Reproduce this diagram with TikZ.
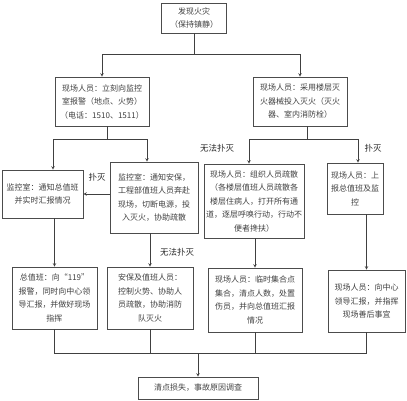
\documentclass[tikz,border=0pt]{standalone}
\usepackage{fontspec}
\setmainfont{Noto Sans CJK SC}
\usepackage{tikz}
\usetikzlibrary{arrows,positioning}
\tikzstyle{box} = [rectangle, draw=black!70, line width=0.6pt, align=center, inner sep=1pt, text=black!75, font=\fontsize{8}{13.5}\selectfont]
\tikzstyle{arrow} = [->, >=stealth, draw=black!75, line width=0.6pt]
\tikzstyle{line} = [draw=black!75, line width=0.6pt]
\tikzstyle{lbl} = [text=black!85, font=\fontsize{8.5}{10}\selectfont, inner sep=1pt]

\begin{document}
\begin{tikzpicture}[x=1pt,y=-1pt]
		\useasboundingbox (0,0) rectangle (407,400);
		\coordinate (fire) at (194,18);
		\coordinate (report) at (102,101.5);
		\coordinate (fight) at (300,101.5);
		\coordinate (monitor) at (42.5,194);
		\coordinate (notify) at (154,197.5);
		\coordinate (evac) at (254,201);
		\coordinate (upreport) at (355,188.5);
		\coordinate (call119) at (54.5,298);
		\coordinate (security) at (150,298);
		\coordinate (gather) at (255,300);
		\coordinate (lead) at (366.5,301);
		\coordinate (final) at (198,388);
		% junctions
		\coordinate (j1) at (194,54);
		\coordinate (j2) at (107,139);
		\coordinate (j2l) at (53,139);
		\coordinate (j2r) at (147,139);
		\coordinate (j4) at (307,139);
		\coordinate (j4l) at (249,139);
		\coordinate (j4r) at (358,139);
		\coordinate (b1) at (54,353);
		\coordinate (b4) at (367,353);
		% Top
		\node[box, name=fire, minimum width=65pt, minimum height=30pt] at (fire) {发现火灾\\（保持镇静）};
		% Second row
		\begin{scope}[every node/.style={box, minimum width=94pt, minimum height=49pt}]
		\node[name=report] at (report) {现场人员：立刻向监控\\室报警（地点、火势）\\（电话：1510、1511）};
		\node[name=fight] at (fight) {现场人员：采用楼层灭\\火器械投入灭火（灭火\\器、室内消防栓）};
		\end{scope}
		% Third row
		\node[box, name=monitor, minimum width=81pt, minimum height=48pt] at (monitor) {监控室：通知总值班\\并实时汇报情况};
		\node[box, name=notify, minimum width=88pt, minimum height=71pt] at (notify) {监控室：通知安保，\\工程部值班人员奔赴\\现场，切断电源，投\\入灭火，协助疏散};
		\node[box, name=evac, minimum width=100pt, minimum height=74pt] at (evac) {现场人员：组织人员疏散\\（各楼层值班人员疏散各\\楼层住病人，打开所有通\\道，逐层呼唤行动，行动不\\便者搀扶）};
		\node[box, name=upreport, minimum width=56pt, minimum height=51pt] at (upreport) {现场人员：上\\报总值班及监\\控};
		% Fourth row
		\begin{scope}[every node/.style={box, minimum height=62pt}]
		\node[name=call119, minimum width=85pt] at (call119) {总值班：向“119”\\报警，同时向中心领\\导汇报，并做好现场\\指挥};
		\node[name=security, minimum width=86pt] at (security) {安保及值班人员：\\控制火势、协助人\\员疏散，协助消防\\队灭火};
		\node[name=gather, minimum width=94pt, minimum height=64pt] at (gather) {现场人员：临时集合点\\集合，清点人数，处置\\伤员，并向总值班汇报\\情况};
		\node[name=lead, minimum width=77pt] at (lead) {现场人员：向中心\\领导汇报，并指挥\\现场善后事宜};
		\end{scope}
		% Bottom
		\node[box, name=final, minimum width=120pt, minimum height=22pt] at (final) {清点损失，事故原因调查};
		% connectors
		\draw [line] (fire) -- (j1);
		\draw [arrow] (j1) -| (report);
		\draw [arrow] (j1) -| (fight);
		\draw [line] (j2 |- report.south) -- (j2);
		\draw [line] (j2l) -- (j2r);
		\draw [arrow] (j2l) -- (j2l |- monitor.north);
		\draw [arrow] (j2r) -- (j2r |- notify.north);
		\draw [arrow] (monitor -| notify.west) -- (monitor.east);
		\draw [arrow] (call119 |- monitor.south) -- (call119);
		\draw [arrow] (security |- notify.south) -- (security);
		\draw [line] (j4 |- fight.south) -- (j4);
		\draw [line] (j4l) -- (j4r);
		\draw [arrow] (j4l) -- (j4l |- evac.north);
		\draw [arrow] (j4r) -- (j4r |- upreport.north);
		\draw [arrow] (gather |- evac.south) -- (gather);
		\draw [arrow] (lead |- upreport.south) -- (lead);
		\draw [line] (call119) -- (call119 |- b1);
		\draw [line] (security) -- (security |- b1);
		\draw [line] (gather) -- (gather |- b1);
		\draw [line] (lead) -- (lead |- b1);
		\draw [line] (b1) -- (b4);
		\draw [arrow] (final |- b1) -- (final);
		% labels
		\node[lbl, name=l1] at (97,177) {扑灭};
		\node[lbl, name=l2] at (177,252) {无法扑灭};
		\node[lbl, name=l3] at (217,148) {无法扑灭};
		\node[lbl, name=l4] at (373,148) {扑灭};
\end{tikzpicture}
\end{document}
